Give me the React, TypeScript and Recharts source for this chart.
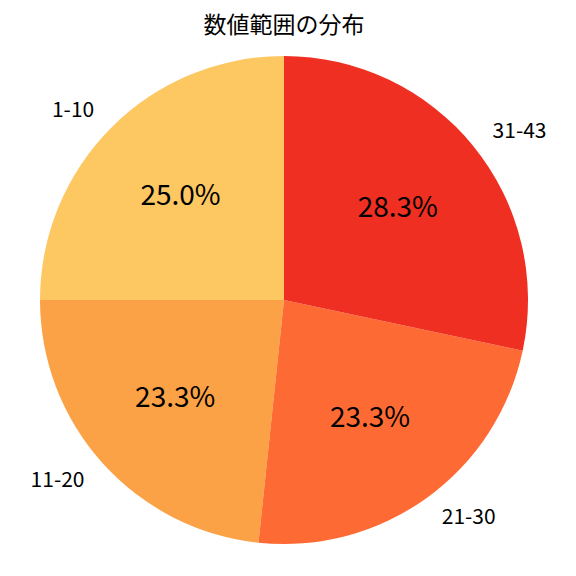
import { PieChart, Pie, Cell } from "recharts";

const categories = ["1-10", "11-20", "21-30", "31-43"];
const counts = [15, 14, 14, 17];
const colors = ["#FDC762", "#FCA246", "#FE6A33", "#EE2F22"];

const data = categories.map((name, i) => ({ name, value: counts[i] }));

const RAD = Math.PI / 180;
const FONT = "'Noto Sans CJK JP', 'Noto Sans', sans-serif";

function renderLabel(props: any) {
  const { cx, cy, midAngle, outerRadius, percent, name } = props;
  const c = Math.cos(-midAngle * RAD);
  const s = Math.sin(-midAngle * RAD);
  const pr = outerRadius * 0.6;
  const lr = outerRadius * 1.1;
  const lx = cx + lr * c;
  return (
    <g>
      <text
        x={cx + pr * c}
        y={cy + pr * s - 3}
        textAnchor="middle"
        dominantBaseline="central"
        fontSize={28}
        fill="#000"
        fontFamily={FONT}
      >
        {(percent * 100).toFixed(1)}%
      </text>
      <text
        x={lx}
        y={cy + lr * s - 2}
        textAnchor={lx > cx ? "start" : "end"}
        dominantBaseline="central"
        fontSize={21}
        fill="#000"
        fontFamily={FONT}
      >
        {name}
      </text>
    </g>
  );
}

export default function App() {
  return (
    <div style={{ position: "fixed", left: 0, top: 0, width: 576, height: 576, background: "#fff" }}>
      <div
        style={{
          position: "absolute",
          top: 8,
          left: 0,
          width: 568,
          textAlign: "center",
          fontFamily: FONT,
          fontSize: 23,
          color: "#000",
          lineHeight: "30px",
        }}
      >
        数値範囲の分布
      </div>
      <PieChart width={576} height={576} margin={{ top: 0, right: 0, bottom: 0, left: 0 }}>
        <Pie
          data={data}
          dataKey="value"
          nameKey="name"
          cx={284}
          cy={300}
          outerRadius={244}
          startAngle={90}
          endAngle={450}
          stroke="none"
          label={renderLabel}
          labelLine={false}
          isAnimationActive={false}
        >
          {data.map((d, i) => (
            <Cell key={d.name} fill={colors[i]} />
          ))}
        </Pie>
      </PieChart>
    </div>
  );
}
